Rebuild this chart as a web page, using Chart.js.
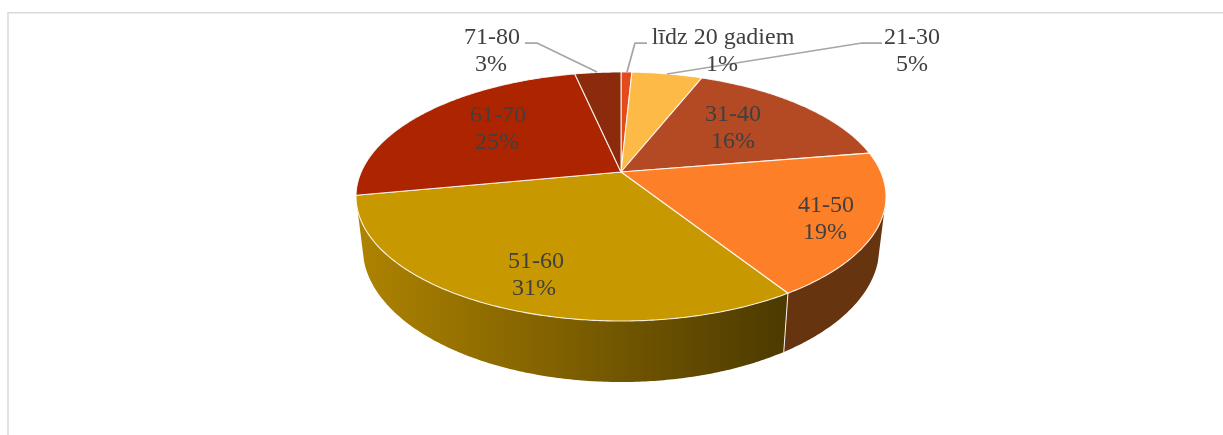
<!DOCTYPE html>
<html><head><meta charset="utf-8">
<style>html,body{margin:0;padding:0;background:#fff}canvas{display:block}</style>
<script src="https://cdn.jsdelivr.net/npm/chart.js@4"></script>
</head><body><canvas id="c" width="1223" height="435"></canvas>
<script>
const categories = ['līdz 20 gadiem','21-30','31-40','41-50','51-60','61-70','71-80'];
const shares = [0.8,5.2,16.4,18.6,31,24.6,3.4];
const sliceColors = ['#E34A1E','#FDBA47','#B34A23','#FD7F27','#C79800','#AD2400','#8C2A0C'];

// label layout: centre x, first-line y, second-line centre x
const labelPlaces = [[723,38,722],[912,38,912],[733,115,733],[826,206,825],[536,262,534],[498,116,497],[492,38,491]];
const leaders = [
  [[647,43],[635,43],[627,72]],
  [[882,43],[862,43],[667,74]],
  [[525,43],[537,43],[597,72]]
];

// perspective of the tilted disc
const P = {cx:621,k:259.8,a:85.83,b:172,c:-0.1968,d:49,f:0.975,wall:0.3};
function upper(ang){
  const u=Math.cos(ang),v=Math.sin(ang),w=1+P.c*v;
  return [P.cx+P.k*u/w,(P.a*v+P.b)/w,w];
}
function lower(ang){
  const t=upper(ang);
  return [P.cx+P.f*(t[0]-P.cx),t[1]+P.d/t[2]];
}
function samples(s,e){
  const n=Math.max(2,Math.ceil((e-s)/0.01)),out=[];
  for(let i=0;i<=n;i++)out.push(s+(e-s)*i/n);
  return out;
}
const disc3d={
  id:'disc3d',
  beforeDatasetDraw(chart,args){
    const ctx=chart.ctx,arcs=chart.getDatasetMeta(args.index).data;
    ctx.save();
    // frame
    ctx.strokeStyle='#D9D9D9';ctx.lineWidth=1.5;
    ctx.beginPath();ctx.moveTo(8,435);ctx.lineTo(8,12.75);ctx.lineTo(1223,12.75);ctx.stroke();
    // side wall
    arcs.forEach((arc,i)=>{
      const s=Math.max(arc.startAngle,P.wall),e=Math.min(arc.endAngle,Math.PI-P.wall);
      if(e<=s)return;
      const pts=samples(s,e);
      ctx.beginPath();
      pts.forEach((a,j)=>{const p=upper(a);j?ctx.lineTo(p[0],p[1]):ctx.moveTo(p[0],p[1]);});
      pts.slice().reverse().forEach(a=>{const p=lower(a);ctx.lineTo(p[0],p[1]);});
      ctx.closePath();
      const g=ctx.createLinearGradient(358,0,785,0);
      if(i===4){g.addColorStop(0,'#AE8300');g.addColorStop(1,'#4C3A00');ctx.fillStyle=g;}
      else ctx.fillStyle='#673410';
      ctx.fill();
    });
    // seam on wall
    arcs.forEach(arc=>{
      const a=arc.endAngle;
      if(a<P.wall||a>Math.PI-P.wall)return;
      const p=upper(a),q=lower(a);
      ctx.strokeStyle='#F2F2F2';ctx.lineWidth=1;
      ctx.beginPath();ctx.moveTo(p[0],p[1]);ctx.lineTo(q[0],q[1]);ctx.stroke();
    });
    // top faces
    arcs.forEach((arc,i)=>{
      ctx.beginPath();
      ctx.moveTo(P.cx,P.b);
      samples(arc.startAngle,arc.endAngle).forEach(a=>{const p=upper(a);ctx.lineTo(p[0],p[1]);});
      ctx.closePath();
      ctx.fillStyle=arc.options.backgroundColor;ctx.fill();
      ctx.strokeStyle='rgba(255,255,255,0.85)';ctx.lineWidth=1.1;ctx.lineJoin='round';ctx.stroke();
    });
    // leaders
    ctx.strokeStyle='#A6A6A6';ctx.lineWidth=1.75;
    leaders.forEach(l=>{ctx.beginPath();l.forEach((p,j)=>j?ctx.lineTo(p[0],p[1]):ctx.moveTo(p[0],p[1]));ctx.stroke();});
    // labels
    ctx.fillStyle='#404040';ctx.font='24px "Liberation Serif"';ctx.textAlign='center';ctx.textBaseline='middle';
    categories.forEach((c,i)=>{
      const pl=labelPlaces[i];
      ctx.fillText(c,pl[0],pl[1]);
      ctx.fillText(Math.round(shares[i])+'%',pl[2],pl[1]+27);
    });
    ctx.restore();
    return false;
  }
};
new Chart(document.getElementById('c'),{
  type:'pie',
  data:{labels:categories,datasets:[{data:shares,backgroundColor:sliceColors,borderWidth:0}]},
  options:{responsive:false,animation:false,rotation:0,
    plugins:{legend:{display:false},tooltip:{enabled:false},title:{display:false}}},
  plugins:[disc3d]
});
</script></body></html>
